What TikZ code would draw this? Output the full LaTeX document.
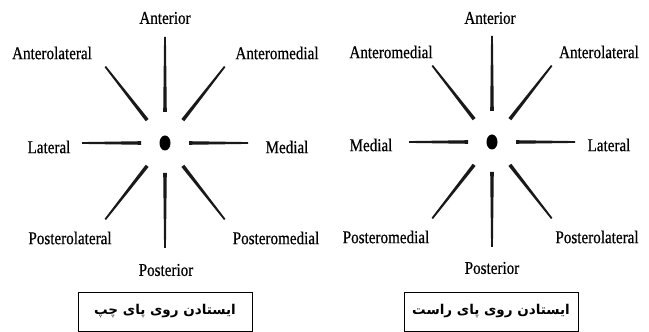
\documentclass[tikz,border=0pt]{standalone}
\usepackage{fontspec}
\setmainfont{Liberation Serif}[FakeStretch=0.84,FakeBold=0.6]
\newfontfamily\farsifont[Script=Arabic]{DejaVu Sans}
\TeXXeTstate=1
\usetikzlibrary{shapes.geometric}

\begin{document}
\begin{tikzpicture}[x=1pt,y=1pt]
  \tikzset{
    dir/.style={font=\fontsize{18}{20}\selectfont, inner sep=0pt},
    spoke/.style={fill=black!90},
    centre/.style={ellipse, fill=black, minimum width=11pt, minimum height=15pt, inner sep=0pt},
    stance/.style={draw, line width=0.9pt, minimum width=174pt, minimum height=39pt,
      inner sep=0pt, font=\farsifont\bfseries\fontsize{13.5}{15}\selectfont}
  }
  \useasboundingbox (0,0) rectangle (649,332);

  % Centre points
  \node[centre] (ldot) at (165,189) {};
  \node[centre] (rdot) at (492,190) {};

  % Spokes, thicker towards the centre
  \foreach \d in {ldot,rdot}
    \foreach \a/\ri/\ro in {90/31/106, 52/29/97, 0/24/83, -52/29/97,
                            -90/30/105, -128/29/97, 180/24/83, 128/29/97}
      \fill[spoke, shift={(\d.center)}, rotate=\a]
        (\ri,-1.8) -- (\ro,-0.9) -- (\ro,0.9) -- (\ri,1.8) -- cycle;

  % Left foot
  \node[dir] (lant)  at (165,314) {Anterior};
  \node[dir] (lantl) at (52,279)  {Anterolateral};
  \node[dir] (lantm) at (277,279) {Anteromedial};
  \node[dir] (llat)  at (49,185)  {Lateral};
  \node[dir] (lmed)  at (287,185) {Medial};
  \node[dir] (lposl) at (70,94)   {Posterolateral};
  \node[dir] (lposm) at (276,94)  {Posteromedial};
  \node[dir] (lpos)  at (166,62)  {Posterior};
  \node[stance] (lbox) at (165,20.5) {\beginR ایستادن روی پای چپ\endR};

  % Right foot
  \node[dir] (rant)  at (490,314) {Anterior};
  \node[dir] (rantm) at (391,280) {Anteromedial};
  \node[dir] (rantl) at (599,280) {Anterolateral};
  \node[dir] (rmed)  at (371,187) {Medial};
  \node[dir] (rlat)  at (609,187) {Lateral};
  \node[dir] (rposm) at (386,95)  {Posteromedial};
  \node[dir] (rposl) at (597,95)  {Posterolateral};
  \node[dir] (rpos)  at (492,64)  {Posterior};
  \node[stance] (rbox) at (491,20.5) {\beginR ایستادن روی پای راست\endR};
\end{tikzpicture}
\end{document}
